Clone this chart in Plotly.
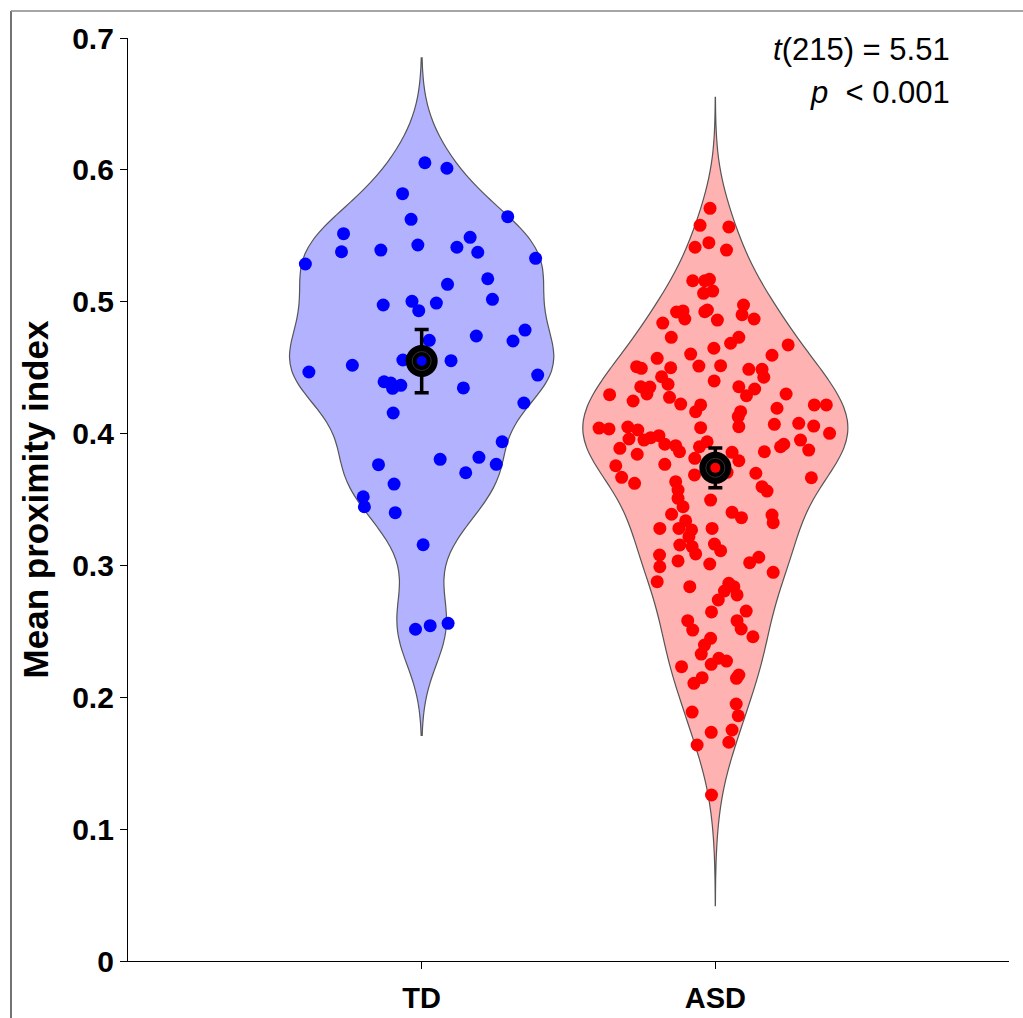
import plotly.graph_objects as go

groups = ["TD", "ASD"]
group_pos = [0, 1]
group_colors = ["#0000ff", "#ff0000"]
violin_fills = ["#b2b2ff", "#ffb2b2"]

td_values = [0.6054, 0.6012, 0.5819, 0.5625, 0.5645, 0.5516, 0.5488, 0.5379, 0.5392, 0.5430,
             0.5413, 0.5375, 0.5329, 0.5286, 0.5174, 0.5132, 0.5018, 0.4975, 0.5003, 0.4932,
             0.4990, 0.4785, 0.4707, 0.4740, 0.4702, 0.4558, 0.4553, 0.4467, 0.4518, 0.4444,
             0.4393, 0.4383, 0.4343, 0.4366, 0.4346, 0.4232, 0.4156, 0.3938, 0.3805, 0.3820,
             0.3767, 0.3703, 0.3764, 0.3617, 0.3521, 0.3445, 0.3400, 0.3157, 0.2516, 0.2543,
             0.2561, 0.4553]
td_jitter = [0.011, 0.086, -0.065, -0.036, 0.293, -0.266, 0.165, -0.273, -0.139, -0.013,
             0.120, 0.191, 0.388, -0.396, 0.225, 0.088, 0.241, -0.131, -0.033, -0.010,
             0.050, 0.352, 0.026, 0.186, 0.311, -0.064, 0.100, -0.384, -0.236, 0.395,
             -0.128, -0.105, -0.099, -0.071, 0.142, 0.348, -0.097, 0.274, 0.063, 0.195,
             0.254, 0.150, -0.147, -0.094, -0.199, -0.195, -0.090, 0.005, -0.021, 0.029,
             0.090, 0.0]

asd_values = [0.5708, 0.5579, 0.5567, 0.5413, 0.5448, 0.5392, 0.5159, 0.5159, 0.5170, 0.5064,
              0.5081, 0.4922, 0.4930, 0.4869, 0.4924, 0.4937, 0.4975, 0.4901, 0.4869, 0.4861,
              0.4838, 0.4730, 0.4685, 0.4730, 0.4672, 0.4647, 0.4603, 0.4571, 0.4594, 0.4507,
              0.4495, 0.4499, 0.4512, 0.4515, 0.4487, 0.4487, 0.4427, 0.4431, 0.4374, 0.4399,
              0.4355, 0.4353, 0.4300, 0.4355, 0.4338, 0.4287, 0.4300, 0.4295, 0.4247, 0.4275,
              0.4224, 0.4217, 0.4166, 0.4166, 0.4128, 0.4192, 0.4217, 0.4217, 0.4042, 0.4035,
              0.4050, 0.4027, 0.4045, 0.4052, 0.4070, 0.4078, 0.4057, 0.3959, 0.3951, 0.3969,
              0.3984, 0.3919, 0.3908, 0.3862, 0.3900, 0.3938, 0.3888, 0.3843, 0.3756, 0.3668,
              0.3623, 0.3767, 0.3812, 0.3686, 0.3858, 0.3794, 0.3706, 0.3862, 0.3900, 0.3919,
              0.3951, 0.3875, 0.4002, 0.3699, 0.3665, 0.3597, 0.3564, 0.3635, 0.3572, 0.3509,
              0.3445, 0.3496, 0.3388, 0.3403, 0.3362, 0.3382, 0.3324, 0.3339, 0.3281, 0.3281,
              0.3269, 0.3281, 0.3218, 0.3155, 0.3142, 0.3087, 0.3162, 0.3112, 0.3079, 0.2990,
              0.3034, 0.3011, 0.3021, 0.3062, 0.2948, 0.2877, 0.2839, 0.2864, 0.2839, 0.2806,
              0.2776, 0.2738, 0.2647, 0.2654, 0.2581, 0.2510, 0.2581, 0.2518, 0.2447, 0.2459,
              0.2396, 0.2328, 0.2296, 0.2275, 0.2250, 0.2232, 0.2149, 0.2106, 0.2169, 0.2144,
              0.1949, 0.1860, 0.1888, 0.1734, 0.1752, 0.1659, 0.1638, 0.1259, 0.3737]
asd_jitter = [-0.018, -0.052, 0.046, -0.069, -0.022, 0.038, -0.077, -0.036, -0.020, -0.040,
              -0.009, -0.132, -0.110, -0.104, -0.036, -0.027, 0.096, 0.091, 0.132, 0.007,
              -0.179, -0.150, 0.052, 0.080, 0.248, -0.005, -0.084, -0.198, 0.193, -0.268,
              -0.252, -0.152, -0.056, 0.018, 0.114, 0.159, 0.165, -0.183, -0.161, -0.004,
              -0.254, -0.223, -0.233, 0.080, 0.134, 0.106, 0.241, -0.360, -0.280, -0.156,
              -0.118, -0.050, -0.067, 0.086, 0.078, 0.210, 0.337, 0.378, -0.396, -0.362,
              -0.298, -0.264, -0.050, 0.080, 0.201, 0.284, 0.335, -0.294, -0.243, -0.220,
              -0.192, -0.172, -0.135, -0.122, -0.054, -0.028, -0.325, -0.266, -0.339, -0.319,
              -0.275, -0.172, -0.070, -0.071, 0.057, 0.080, 0.040, 0.167, 0.222, 0.233,
              0.290, 0.318, 0.389, 0.138, 0.327, 0.159, 0.176, -0.135, -0.127, -0.127,
              -0.110, -0.016, -0.149, 0.057, 0.089, 0.193, 0.197, -0.101, -0.189, -0.124,
              -0.081, -0.011, -0.090, -0.121, -0.079, -0.067, -0.003, 0.018, -0.190, -0.189,
              -0.127, -0.019, 0.117, 0.148, 0.197, -0.198, -0.087, 0.046, 0.063, 0.031,
              0.074, 0.010, -0.013, 0.105, -0.094, -0.077, 0.074, 0.088, -0.016, 0.128,
              -0.037, -0.048, 0.012, 0.038, -0.014, -0.115, -0.045, -0.073, 0.080, 0.072,
              0.071, 0.078, -0.079, -0.014, 0.057, 0.046, -0.062, -0.013, -0.005]

group_means = [0.455, 0.374]
group_ci = [0.024, 0.015]
bandwidths = [0.030, 0.031]
violin_spans = [[0.171, 0.685], [0.042, 0.655]]

y_ticks = [0, 0.1, 0.2, 0.3, 0.4, 0.5, 0.6, 0.7]
y_tick_labels = ["0", "0.1", "0.2", "0.3", "0.4", "0.5", "0.6", "0.7"]

all_values = [td_values, asd_values]
all_jitter = [td_jitter, asd_jitter]

FONT = "Liberation Sans, Arial, sans-serif"

fig = go.Figure()

for i in range(2):
    fig.add_trace(go.Violin(
        y=all_values[i], x0=group_pos[i], name=groups[i],
        width=0.9, scalemode="width", spanmode="manual", span=violin_spans[i],
        bandwidth=bandwidths[i],
        fillcolor=violin_fills[i], line=dict(color="#555555", width=1.2),
        points=False, box_visible=False, meanline_visible=False,
        hoverinfo="skip", showlegend=False, opacity=1,
    ))

for i in range(2):
    fig.add_trace(go.Scatter(
        x=[group_pos[i] + j for j in all_jitter[i]], y=all_values[i],
        mode="markers", marker=dict(size=13, color=group_colors[i], line=dict(width=0)),
        showlegend=False, hoverinfo="skip",
    ))

for i in range(2):
    fig.add_trace(go.Scatter(
        x=[group_pos[i]], y=[group_means[i]], mode="markers",
        marker=dict(size=32, color="black", line=dict(width=0)),
        error_y=dict(type="data", array=[group_ci[i]], color="black", thickness=3.5, width=7),
        showlegend=False, hoverinfo="skip",
    ))
    fig.add_trace(go.Scatter(
        x=[group_pos[i]], y=[group_means[i]], mode="markers",
        marker=dict(size=19, color="rgba(0,0,0,0)", line=dict(width=1, color="#333333")),
        showlegend=False, hoverinfo="skip",
    ))
    fig.add_trace(go.Scatter(
        x=[group_pos[i]], y=[group_means[i]], mode="markers",
        marker=dict(size=10, color=group_colors[i], line=dict(width=0)),
        showlegend=False, hoverinfo="skip",
    ))

fig.add_annotation(xref="paper", yref="paper", x=0.935, y=0.987, xanchor="right", yanchor="middle",
                   text="<i>t</i>(215) = 5.51", showarrow=False,
                   font=dict(family=FONT, size=31, color="black"))
fig.add_annotation(xref="paper", yref="paper", x=0.935, y=0.941, xanchor="right", yanchor="middle",
                   text="<i>p</i>  < 0.001", showarrow=False,
                   font=dict(family=FONT, size=31, color="black"))

# figure frame (left and top edges visible)
fig.add_shape(type="line", xref="paper", yref="paper", x0=-0.1328, x1=-0.1328, y0=-0.2, y1=1.0293,
              line=dict(color="#444444", width=1.5))
fig.add_shape(type="line", xref="paper", yref="paper", x0=-0.1328, x1=1.2, y0=1.0293, y1=1.0293,
              line=dict(color="#888888", width=1.5))

fig.update_layout(
    width=1023, height=1018,
    margin=dict(l=128, r=14, t=38, b=57, autoexpand=False),
    paper_bgcolor="white", plot_bgcolor="white",
    violinmode="overlay",
    font=dict(family=FONT, color="black"),
    xaxis=dict(
        range=[-1, 2], tickmode="array", tickvals=group_pos,
        ticktext=["<b>%s</b>" % g for g in groups],
        tickfont=dict(family=FONT, size=29, color="black"),
        showline=True, linecolor="black", linewidth=1.2,
        ticks="outside", ticklen=7, tickcolor="black", tickwidth=1.2,
        ticklabelstandoff=4, automargin=False,
        showgrid=False, zeroline=False,
    ),
    yaxis=dict(
        range=[0, 0.7], tickmode="array", tickvals=y_ticks,
        ticktext=["<b>%s</b>" % t for t in y_tick_labels],
        tickfont=dict(family=FONT, size=30, color="black"),
        showline=True, linecolor="black", linewidth=1.2,
        ticks="outside", ticklen=7, tickcolor="black", tickwidth=1.2,
        showgrid=False, zeroline=False, automargin=False,
        title=dict(text="<b>Mean proximity index</b>", font=dict(family=FONT, size=35, color="black"),
                   standoff=12),
    ),
)

fig.write_html("out.html")
